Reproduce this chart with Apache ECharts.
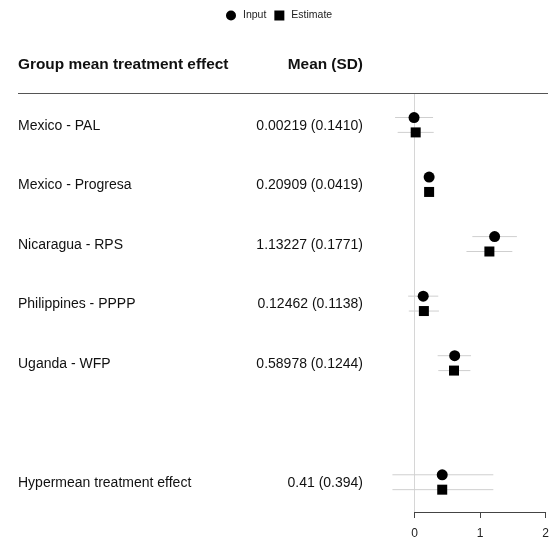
<!DOCTYPE html>
<html><head><meta charset="utf-8">
<script src="https://cdn.jsdelivr.net/npm/echarts@6/dist/echarts.min.js"></script>
<style>html,body{margin:0;padding:0;background:#fff}#c{width:552px;height:544px}</style>
</head><body><div id="c"></div>
<script>
// ---- data ----
const groupLabels = ['Mexico - PAL','Mexico - Progresa','Nicaragua - RPS','Philippines - PPPP','Uganda - WFP','Hypermean treatment effect'];
const meanSdText = ['0.00219 (0.1410)','0.20909 (0.0419)','1.13227 (0.1771)','0.12462 (0.1138)','0.58978 (0.1244)','0.41 (0.394)'];
const rowIndex = [0,1,2,3,4,6];
const inputMean = [-0.01, 0.22, 1.22, 0.13, 0.61, 0.42];
const inputLow  = [-0.30, 0.15, 0.88, -0.10, 0.35, -0.34];
const inputHigh = [0.28, 0.29, 1.56, 0.36, 0.86, 1.20];
const estMean   = [0.015, 0.22, 1.14, 0.14, 0.60, 0.42];
const estLow    = [-0.26, 0.15, 0.79, -0.09, 0.36, -0.34];
const estHigh   = [0.29, 0.29, 1.49, 0.37, 0.85, 1.20];
const axisTicks = [0, 1, 2];
const headerLeft = 'Group mean treatment effect';
const headerRight = 'Mean (SD)';

const FONT = '"Liberation Sans", Arial, Helvetica, sans-serif';
const OFF = 0.125;

const chart = echarts.init(document.getElementById('c'), null, {renderer:'canvas'});

const inputBars = rowIndex.map((r,i)=>[inputLow[i], inputHigh[i], r - OFF]);
const estBars = rowIndex.map((r,i)=>[estLow[i], estHigh[i], r + OFF]);
const inputPts = rowIndex.map((r,i)=>[inputMean[i], r - OFF]);
const estPts = rowIndex.map((r,i)=>[estMean[i], r + OFF]);

function barRender(params, api){
  const p1 = api.coord([api.value(0), api.value(2)]);
  const p2 = api.coord([api.value(1), api.value(2)]);
  return {type:'line', shape:{x1:p1[0], y1:p1[1], x2:p2[0], y2:p2[1]},
          style:{stroke:'#cfcfcf', lineWidth:1}};
}

chart.setOption({
  animation:false,
  backgroundColor:'#fff',
  textStyle:{fontFamily:FONT},
  legend:{
    data:[{name:'Input', icon:'circle'},{name:'Estimate', icon:'rect'}],
    left:221, top:5, itemWidth:10, itemHeight:10, itemGap:8,
    textStyle:{fontSize:10.5, color:'#222', fontFamily:FONT, padding:[0,0,0,2]}
  },
  grid:[
    {left:388.5, width:160.5, top:94, height:418},
    {left:414.7, width:131, top:511, height:1}
  ],
  xAxis:[
    {gridIndex:0, type:'value', min:-0.4, max:2.05, show:false},
    {gridIndex:1, type:'value', min:0, max:2, interval:1, position:'bottom',
     axisLine:{show:true, lineStyle:{color:'#444', width:1}},
     axisTick:{show:true, length:6, lineStyle:{color:'#444'}},
     axisLabel:{show:true, margin:16, fontSize:12, color:'#222', fontFamily:FONT,
       formatter:(v)=> axisTicks.indexOf(v)>=0 ? String(v) : ''},
     splitLine:{show:false}}
  ],
  yAxis:[
    {gridIndex:0, type:'value', min:-0.52, max:6.5, inverse:true, show:false},
    {gridIndex:1, type:'value', min:0, max:1, show:false}
  ],
  series:[
    {type:'custom', name:'inputBars', xAxisIndex:0, yAxisIndex:0, renderItem:barRender,
     data:inputBars, encode:{x:[0,1], y:2}, z:1,
     markLine:{silent:true, z:0, symbol:'none', label:{show:false},
       lineStyle:{color:'#d6d6d6', width:1, type:'solid'}, data:[{xAxis:0}]}},
    {type:'custom', name:'estBars', xAxisIndex:0, yAxisIndex:0, renderItem:barRender,
     data:estBars, encode:{x:[0,1], y:2}, z:1},
    {type:'scatter', name:'Input', symbol:'circle', symbolSize:11, xAxisIndex:0, yAxisIndex:0,
     data:inputPts, itemStyle:{color:'#000', opacity:1}, z:3},
    {type:'scatter', name:'Estimate', symbol:'rect', symbolSize:10, xAxisIndex:0, yAxisIndex:0,
     data:estPts, itemStyle:{color:'#000', opacity:1}, z:3}
  ]
});

const g = [];
g.push({type:'text', left:18, top:57, style:{text:headerLeft, font:'bold 15.4px '+FONT, fill:'#111'}});
g.push({type:'text', right:552-363, top:57, style:{text:headerRight, font:'bold 15.4px '+FONT, fill:'#111'}});
g.push({type:'line', shape:{x1:18, y1:93.5, x2:548, y2:93.5}, style:{stroke:'#555', lineWidth:1}});
rowIndex.forEach((r,i)=>{
  const y = chart.convertToPixel({xAxisIndex:0, yAxisIndex:0}, [0, r])[1];
  g.push({type:'text', x:18, y:y+1, style:{text:groupLabels[i], font:'14px '+FONT, fill:'#111', textVerticalAlign:'middle', verticalAlign:'middle'}});
  g.push({type:'text', x:363, y:y+1, style:{text:meanSdText[i], font:'14px '+FONT, fill:'#111', textAlign:'right', align:'right', textVerticalAlign:'middle', verticalAlign:'middle'}});
});
chart.setOption({graphic:g});
</script>
</body></html>
